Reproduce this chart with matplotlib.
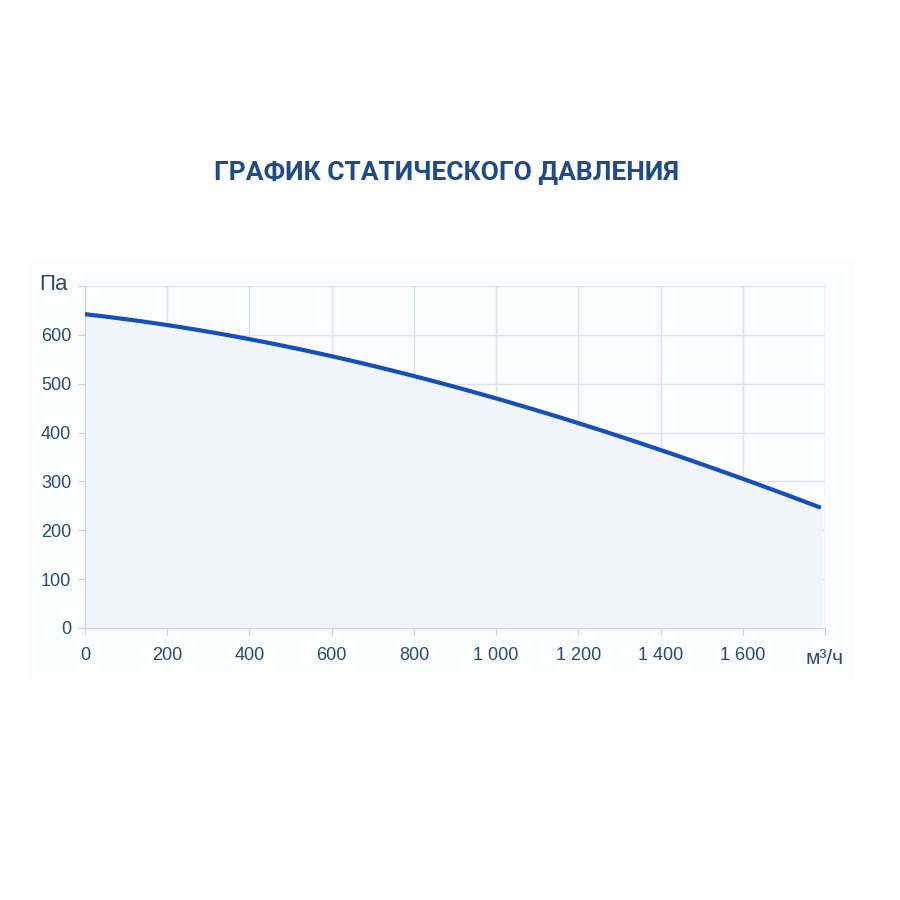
import numpy as np
import matplotlib
matplotlib.use("Agg")
import matplotlib.pyplot as plt

plt.rcParams['font.family'] = ['Liberation Sans', 'DejaVu Sans']

# расход воздуха, м3/ч  и статическое давление, Па
flow = [0, 200, 400, 600, 800, 1000, 1200, 1400, 1600, 1790]
pressure = [641, 622, 592, 556, 514, 470, 419, 365, 307, 245]
x_ticks = [0, 200, 400, 600, 800, 1000, 1200, 1400, 1600]
x_labels = ["0", "200", "400", "600", "800", "1 000", "1 200", "1 400", "1 600"]
y_ticks = [0, 100, 200, 300, 400, 500, 600]

txt = "#2b4a72"
grid = "#dde2ea"

fig = plt.figure(figsize=(9, 9), dpi=100)
fig.patch.set_facecolor("white")

# бледная подложка как на скриншоте
bg = fig.add_axes([30/900, 1-680/900, 825/900, 420/900], zorder=0)
bg.set_facecolor("#fafcfe")
bg.set_xticks([])
bg.set_yticks([])
for s in bg.spines.values():
    s.set_visible(False)

ax = fig.add_axes([85/900, 1-628/900, 740/900, 342/900], zorder=2)
ax.set_facecolor("none")

# плавная кривая через точки
xs = np.linspace(flow[0], flow[-1], 300)
coef = np.polyfit(flow, pressure, 3)
ys = np.polyval(coef, xs)
ax.fill_between(xs, ys, 0, color="#f2f6fc", zorder=1)
ax.plot(xs, ys, color="#1450b8", lw=3.0, zorder=3, solid_capstyle="butt")

ax.set_xlim(0, 1800)
ax.set_ylim(0, 700)
ax.set_xticks(x_ticks + [1800])
ax.set_xticklabels(x_labels + [""])
ax.set_yticks(y_ticks + [700])
ax.set_yticklabels([str(v) for v in y_ticks] + [""])
ax.grid(True, color=grid, lw=1, zorder=0)
ax.set_axisbelow(True)
for s in ["top", "right"]:
    ax.spines[s].set_visible(False)
for s in ["left", "bottom"]:
    ax.spines[s].set_color("#ccd2db")
ax.tick_params(colors="#ccd2db", labelcolor=txt, labelsize=13, length=5, pad=5)
ax.tick_params(axis="x", pad=9)

fig.text(39/900, 1-285/900, "Па", color=txt, fontsize=16, va="center", ha="left")
fig.text(825/900, 1-659/900, "м³/ч", color=txt, fontsize=15, va="center", ha="center")
fig.text(447/900, 1-173/900, "ГРАФИК СТАТИЧЕСКОГО ДАВЛЕНИЯ", color="#1f4b86",
         fontsize=19, fontweight="bold", ha="center", va="center", family="Roboto")

fig.savefig("out.png", dpi=100, facecolor="white")
